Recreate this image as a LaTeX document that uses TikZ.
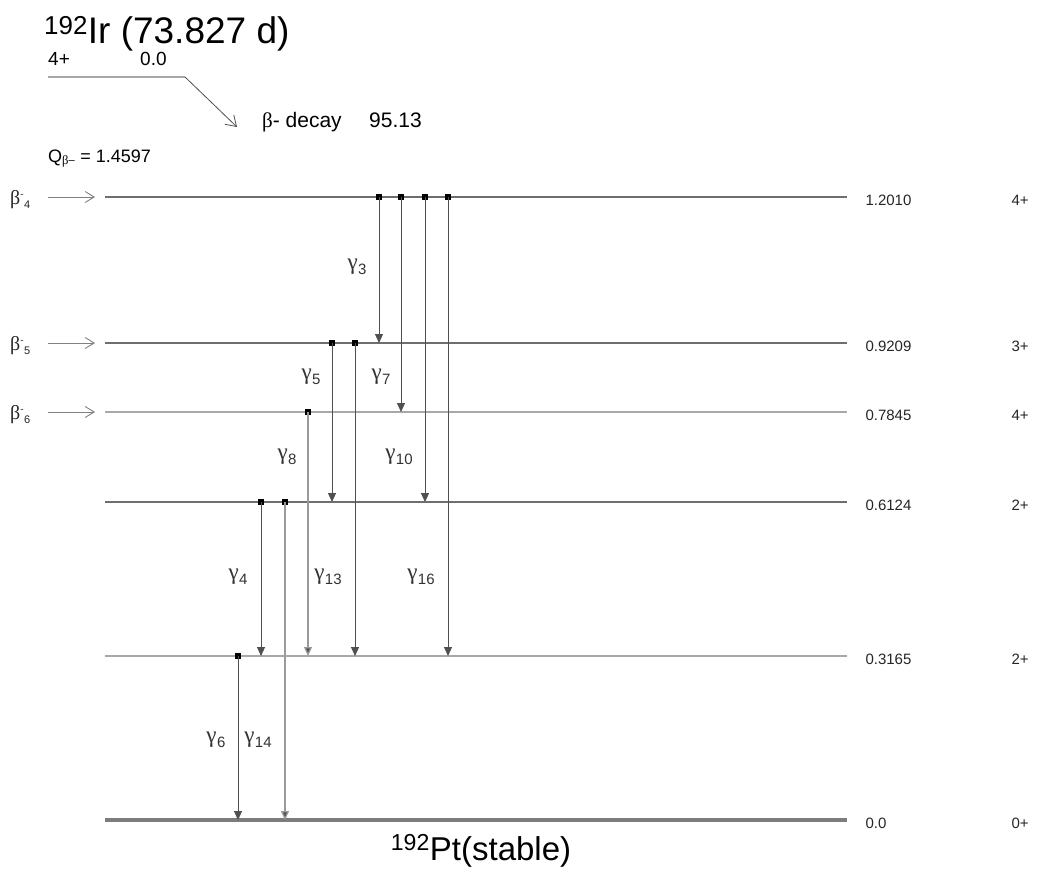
\documentclass[tikz,border=0pt]{standalone}
\usepackage{fontspec}
\setmainfont{Liberation Sans}
\newfontfamily\grk{Liberation Serif}
\usetikzlibrary{arrows.meta}
\definecolor{lvdark}{HTML}{6E6E6E}
\definecolor{lvlight}{HTML}{A8A8A8}
\definecolor{gdark}{HTML}{505050}
\definecolor{glight}{HTML}{9A9A9A}
\newcommand{\gsub}[1]{{\grk γ}\kern0.5pt\raisebox{-5pt}{\fontsize{15}{15}\selectfont #1}}
\tikzset{
  lvl/.style={draw=lvdark, line width=1.1pt},
  lvlL/.style={draw=lvlight, line width=2pt},
  ground/.style={draw=lvdark!90, line width=4.5pt},
  gam/.style={draw=gdark, line width=0.9pt, -{Triangle[length=9pt,width=8pt]}},
  gamL/.style={draw=glight, line width=1.3pt, -{Triangle[length=9pt,width=8pt,fill=gdark]}},
  sq/.style={fill=black, inner sep=0pt, minimum size=6pt, draw=none},
  feed/.style={draw=gray, line width=0.9pt, -{Straight Barb[length=9pt,width=11pt]}},
  elab/.style={anchor=west, font=\fontsize{15}{17}\selectfont, text=black!85},
  glab/.style={font=\fontsize{23}{25}\selectfont, text=black!80},
  blab/.style={anchor=west, font=\fontsize{20}{22}\selectfont, text=black!85}
}
\begin{document}
\begin{tikzpicture}[x=1pt,y=-1pt]
\useasboundingbox[fill=white] (0,0) rectangle (1038,872);
% title
\node[anchor=base west, inner sep=0pt, font=\fontsize{37}{40}\selectfont] (title) at (44,44) {\textsuperscript{192}Ir (73.827 d)};
\node[anchor=base west, inner sep=0pt, font=\fontsize{19}{21}\selectfont] (pspin) at (48,66) {4+};
\node[anchor=base west, inner sep=0pt, font=\fontsize{19}{21}\selectfont] (pen) at (140,66) {0.0};
\coordinate (p0) at (48,77);
\coordinate (p1) at (185,77);
\coordinate (p2) at (237,127);
\draw[draw=lvlight, line width=2pt] (p0) -- (p1);
\draw[draw=gdark, line width=0.8pt, -{Straight Barb[length=10pt,width=13pt]}] (p1) -- (p2);
\node[anchor=base west, inner sep=0pt, font=\fontsize{21}{24}\selectfont] (dec) at (262,128) {{\grk β}- decay};
\node[anchor=base west, inner sep=0pt, font=\fontsize{21}{24}\selectfont] (br) at (369,128) {95.13};
\node[anchor=base west, inner sep=0pt, font=\fontsize{18}{20}\selectfont] (q) at (48,162) {Q\textsubscript{\grk β\sffamily–} = 1.4597};
% levels
\foreach \n/\y in {a/197,b/343,c/412,d/502,e/656,f/820}{
  \coordinate (\n L) at (105,\y);
  \coordinate (\n R) at (847,\y);
}
\draw[lvl] (aL) -- (aR);
\draw[lvl] (bL) -- (bR);
\draw[lvlL] (cL) -- (cR);
\draw[lvl] (dL) -- (dR);
\draw[lvlL, line width=2.5pt] (eL) -- (eR);
\draw[ground] (fL) -- (fR);
% energy and spin labels
\node[elab] (ea) at (862,200) {1.2010};
\node[elab] (eb) at (862,346) {0.9209};
\node[elab] (ec) at (862,415) {0.7845};
\node[elab] (ed) at (862,505) {0.6124};
\node[elab] (ee) at (862,659) {0.3165};
\node[elab] (ef) at (862,823) {0.0};
\node[elab] (sa) at (1008,200) {4+};
\node[elab] (sb) at (1008,346) {3+};
\node[elab] (sc) at (1008,415) {4+};
\node[elab] (sd) at (1008,505) {2+};
\node[elab] (se) at (1008,659) {2+};
\node[elab] (sf) at (1008,823) {0+};
% feeding arrows
\foreach \n/\y/\k in {a/197/4,b/343/5,c/412/6}{
  \node[blab, inner sep=0pt] (bf\n) at (10,\y+3) {{\grk β}\textsuperscript{\fontsize{10}{10}\selectfont -}\textsubscript{\fontsize{11}{11}\selectfont\k}};
  \coordinate (fs\n) at (48,\y);
  \coordinate (fe\n) at (95,\y);
  \draw[feed] (fs\n) -- (fe\n);
}
% gamma transitions: name/x/ystart/yend/style
\foreach \n/\x/\ys/\ye/\st in {g3/379/197/343/gam, g7/401/197/412/gam, g10/425/197/502/gam, g16/448/197/656/gam,
  g5/332/343/502/gam, g13/355/343/656/gam, g8/308/412/656/gamL, g4/261/502/656/gam, g14/285/502/820/gamL, g6/238/656/820/gam}{
  \node[sq] (\n s) at (\x,\ys) {};
  \coordinate (\n e) at (\x,\ye);
  \draw[\st] (\n s.center) -- (\n e);
}
% gamma labels
\node[glab] (l3) at (357,267) {\gsub{3}};
\node[glab] (l5) at (311,377) {\gsub{5}};
\node[glab] (l7) at (381,377) {\gsub{7}};
\node[glab] (l8) at (287,457) {\gsub{8}};
\node[glab] (l10) at (399,457) {\gsub{10}};
\node[glab] (l4) at (238,577) {\gsub{4}};
\node[glab] (l13) at (328,577) {\gsub{13}};
\node[glab] (l16) at (421,577) {\gsub{16}};
\node[glab] (l6) at (216,740) {\gsub{6}};
\node[glab] (l14) at (258,740) {\gsub{14}};
% daughter
\node[anchor=base, inner sep=0pt, font=\fontsize{33}{36}\selectfont] (pt) at (481,860) {\textsuperscript{192}Pt(stable)};
\end{tikzpicture}
\end{document}
